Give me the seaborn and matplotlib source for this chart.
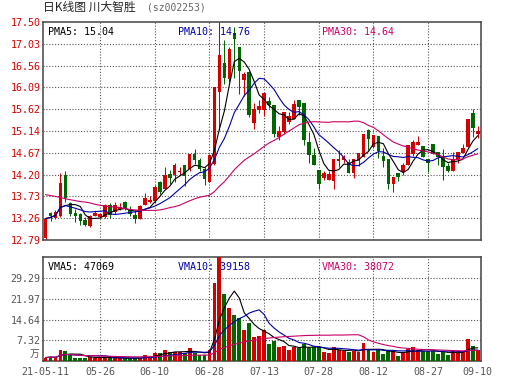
"""
Daily K-line chart for 川大智胜 (sz002253), 2021-05-11 .. 2021-09-10
Candles + price MA5/10/30 on top, volume + VMA5/10/30 below.
"""

import numpy as np
import pandas as pd
import matplotlib
matplotlib.use("Agg")
import matplotlib.pyplot as plt
import matplotlib.transforms as mtransforms
import seaborn as sns

# ------------------------------------------------------------------
# Data (88 trading days)
# ------------------------------------------------------------------
open_ = [12.84, 13.37, 13.26, 13.30, 14.19, 13.58, 13.38, 13.35, 13.23, 13.09,
         13.30, 13.29, 13.29, 13.54, 13.40, 13.45, 13.61, 13.47, 13.33, 13.25,
         13.54, 13.61, 13.63, 14.05, 13.90, 14.21, 14.19, 14.26, 14.40, 14.33,
         14.64, 14.51, 14.33, 14.05, 14.43, 15.99, 16.61, 16.27, 17.27, 16.95,
         16.24, 16.43, 15.31, 15.60, 15.60, 15.79, 15.71, 15.02, 15.13, 15.34,
         15.40, 15.81, 15.74, 14.91, 14.62, 14.31, 14.14, 14.08, 14.07, 14.50,
         14.52, 14.48, 14.23, 14.52, 14.59, 15.16, 14.80, 15.03, 14.60, 14.53,
         14.01, 14.23, 14.26, 14.41, 14.65, 14.84, 14.82, 14.53, 14.86, 14.69,
         14.58, 14.38, 14.29, 14.54, 14.66, 14.79, 15.54, 15.09]
close = [13.25, 13.31, 13.40, 14.02, 13.69, 13.36, 13.30, 13.20, 13.11, 13.30,
         13.37, 13.35, 13.54, 13.33, 13.54, 13.50, 13.45, 13.35, 13.25, 13.52,
         13.70, 13.65, 13.94, 13.83, 14.19, 14.14, 14.41, 14.29, 14.17, 14.64,
         14.51, 14.33, 14.11, 14.62, 16.09, 16.79, 16.29, 16.92, 17.13, 16.45,
         16.38, 15.49, 15.62, 15.68, 15.96, 15.71, 15.09, 15.15, 15.56, 15.47,
         15.73, 15.67, 14.95, 14.62, 14.41, 14.01, 14.23, 14.21, 14.55, 14.55,
         14.59, 14.23, 14.55, 14.66, 15.09, 14.98, 15.06, 14.72, 14.50, 14.01,
         14.15, 14.16, 14.41, 14.85, 14.91, 14.91, 14.59, 14.45, 14.64, 14.58,
         14.37, 14.28, 14.55, 14.70, 14.77, 15.40, 15.20, 15.15]
high = [13.28, 13.40, 13.44, 14.23, 14.28, 13.62, 13.47, 13.38, 13.28, 13.33,
        13.42, 13.37, 13.56, 13.58, 13.62, 13.60, 13.63, 13.52, 13.42, 13.54,
        13.81, 13.75, 13.98, 14.07, 14.37, 14.30, 14.45, 14.37, 14.40, 14.65,
        14.75, 14.56, 14.37, 14.64, 16.10, 17.50, 17.12, 16.95, 17.40, 16.97,
        16.43, 16.45, 15.74, 15.81, 15.96, 15.88, 15.71, 15.25, 15.56, 15.55,
        15.81, 15.81, 15.74, 15.13, 14.77, 14.31, 14.28, 14.28, 14.55, 14.73,
        14.63, 14.55, 14.55, 14.66, 15.09, 15.18, 15.06, 15.03, 14.77, 14.53,
        14.15, 14.23, 14.45, 14.85, 14.95, 15.03, 14.82, 14.53, 14.86, 14.69,
        14.75, 14.45, 14.70, 14.70, 14.87, 15.40, 15.61, 15.25]
low = [12.79, 13.20, 13.24, 13.28, 13.61, 13.30, 13.18, 13.11, 13.09, 13.08,
       13.30, 13.27, 13.26, 13.26, 13.36, 13.44, 13.43, 13.30, 13.15, 13.25,
       13.54, 13.58, 13.60, 13.79, 13.90, 14.00, 14.05, 14.20, 13.96, 14.28,
       14.44, 14.29, 13.98, 14.04, 14.40, 15.16, 16.17, 16.20, 16.30, 15.95,
       15.90, 15.45, 15.18, 15.53, 15.47, 15.65, 15.02, 14.95, 15.09, 15.30,
       15.40, 15.49, 14.84, 14.46, 14.41, 13.90, 14.09, 14.08, 13.90, 14.37,
       14.45, 14.23, 14.12, 14.39, 14.59, 14.73, 14.77, 14.57, 14.37, 13.90,
       13.83, 14.06, 14.19, 14.41, 14.60, 14.84, 14.59, 14.26, 14.64, 14.42,
       14.08, 14.25, 14.29, 14.45, 14.66, 14.79, 15.02, 14.99]
# volume in 万 (10k)
volume = [1.25, 1.5, 1.25, 3.95, 3.6, 2.2, 1.25, 1.25, 1.25, 1.5,
          1.25, 1.25, 1.25, 1.0, 1.0, 1.0, 1.0, 1.0, 1.0, 1.25,
          2.2, 1.5, 3.0, 2.7, 3.95, 3.2, 3.3, 3.2, 3.0, 4.55,
          3.0, 2.05, 2.05, 3.95, 27.6, 37.0, 23.8, 18.8, 16.3, 15.3,
          11.0, 13.6, 8.5, 8.9, 11.0, 6.2, 7.1, 4.8, 5.4, 3.95,
          5.1, 4.55, 6.0, 4.55, 4.8, 4.8, 3.35, 3.0, 5.0, 3.95,
          3.6, 3.35, 3.6, 3.35, 6.5, 3.95, 3.35, 3.8, 2.65, 3.95,
          3.2, 1.85, 3.2, 4.4, 4.8, 3.8, 3.6, 3.6, 3.6, 2.65,
          3.35, 2.2, 3.6, 3.0, 3.35, 7.7, 5.4, 3.95]
# MA30 before 30 days of history are visible (comes from earlier data)
ma30_head = [13.77, 13.75, 13.73, 13.71, 13.68, 13.66, 13.64, 13.62, 13.61, 13.59,
             13.56, 13.54, 13.52, 13.51, 13.50, 13.49, 13.47, 13.45, 13.44, 13.43,
             13.43, 13.43, 13.43, 13.44, 13.46, 13.49, 13.51, 13.54, 13.59]

date_idx = [0, 11, 22, 33, 44, 55, 66, 77, 87]
date_labels = ["21-05-11", "05-26", "06-10", "06-28", "07-13",
               "07-28", "08-12", "08-27", "09-10"]
grid_idx = [11, 22, 33, 44, 55, 66, 77]
price_ticks = [12.79, 13.26, 13.73, 14.20, 14.67, 15.14, 15.62, 16.09, 16.56, 17.03, 17.50]
vol_ticks = [7.32, 14.64, 21.97, 29.29]
vol_top = 36.61

pma_labels = ["PMA5: 15.04", "PMA10: 14.76", "PMA30: 14.64"]
vma_labels = ["VMA5: 47069", "VMA10: 39158", "VMA30: 38072"]

# ------------------------------------------------------------------
# Setup
# ------------------------------------------------------------------
sns.set_style("white")
plt.rcParams['font.family'] = ['DejaVu Sans Mono', 'Noto Sans CJK SC']

RED = "#d40000"
GREEN = "#006600"
BLUE = "#0000aa"
PINK = "#cc0066"
GRID = "#555555"
FRAME = "#444444"
GRAY = "#555555"
FS = 7.2

df = pd.DataFrame({"open": open_, "close": close, "high": high,
                   "low": low, "volume": volume})
df["x"] = np.arange(len(df))
df["ma5"] = df["close"].rolling(5, min_periods=1).mean()
df["ma10"] = df["close"].rolling(10, min_periods=1).mean()
df["ma30"] = df["close"].rolling(30).mean()
df.loc[:len(ma30_head) - 1, "ma30"] = ma30_head
df["vma5"] = df["volume"].rolling(5, min_periods=1).mean()
df["vma10"] = df["volume"].rolling(10, min_periods=1).mean()
df["vma30"] = df["volume"].rolling(30, min_periods=1).mean()
df["color"] = np.where(df["close"] >= df["open"], RED, GREEN)

W, H = 530, 391
fig = plt.figure(figsize=(W / 100, H / 100), dpi=100)
left = 43.3 / W
width = (481 - 43.3) / W
ax_p = fig.add_axes([left, 1 - 240 / H, width, (240 - 22) / H])
ax_v = fig.add_axes([left, 1 - 361.1 / H, width, (361.1 - 257.3) / H])

# ------------------------------------------------------------------
# Price panel
# ------------------------------------------------------------------
ax_p.vlines(df["x"], df["low"], df["high"], colors=df["color"], lw=0.75, zorder=2)
body = (df["close"] - df["open"]).abs().clip(lower=0.015)
ax_p.bar(df["x"], body, bottom=df[["open", "close"]].min(axis=1), width=0.72,
         color=df["color"], lw=0, zorder=3)

sns.lineplot(data=df, x="x", y="ma5", ax=ax_p, color="black", lw=0.8, zorder=4)
sns.lineplot(data=df, x="x", y="ma10", ax=ax_p, color=BLUE, lw=0.8, zorder=4)
sns.lineplot(data=df, x="x", y="ma30", ax=ax_p, color=PINK, lw=0.8, zorder=4)

ax_p.set_ylim(price_ticks[0], price_ticks[-1])
ax_p.set_yticks(price_ticks)
ax_p.set_yticklabels([f"{t:.2f}" for t in price_ticks], color=RED, fontsize=FS)
ax_p.set_xticks([])

# ------------------------------------------------------------------
# Volume panel
# ------------------------------------------------------------------
ax_v.bar(df["x"], df["volume"], width=0.78, color=df["color"], lw=0, zorder=3)
sns.lineplot(data=df, x="x", y="vma5", ax=ax_v, color="black", lw=0.8, zorder=4)
sns.lineplot(data=df, x="x", y="vma10", ax=ax_v, color=BLUE, lw=0.8, zorder=4)
sns.lineplot(data=df, x="x", y="vma30", ax=ax_v, color=PINK, lw=0.8, zorder=4)

ax_v.set_ylim(0, vol_top)
ax_v.set_yticks(vol_ticks)
ax_v.set_yticklabels([f"{t:.2f}" for t in vol_ticks], color=GRAY, fontsize=FS)
ax_v.set_xticks(date_idx)
ax_v.set_xticklabels(date_labels, color=GRAY, fontsize=FS)
trans = mtransforms.blended_transform_factory(ax_v.transAxes, ax_v.transData)
ax_v.text(-0.008, 2.6, "万", transform=trans, ha="right", va="center",
          color=GRAY, fontsize=7, family=['Noto Sans CJK SC'])

# ------------------------------------------------------------------
# Common styling
# ------------------------------------------------------------------
for ax, yt in [(ax_p, price_ticks[1:-1]), (ax_v, vol_ticks)]:
    ax.set_xlim(-0.45, 87.65)
    ax.set_xlabel("")
    ax.set_ylabel("")
    for y in yt:
        ax.axhline(y, color=GRID, lw=0.8, ls=(0, (1, 1.6)), zorder=1)
    for x in grid_idx:
        ax.axvline(x, color=GRID, lw=0.8, ls=(0, (1, 1.6)), zorder=1)
    for s in ax.spines.values():
        s.set_visible(True)
        s.set_color(FRAME)
        s.set_linewidth(1.1)
    ax.tick_params(length=0, pad=2)
ax_v.tick_params(axis="x", pad=4)

# MA value labels
label_x = [0.010, 0.307, 0.637]
label_c = ["black", BLUE, PINK]
for lx, txt, c in zip(label_x, pma_labels, label_c):
    ax_p.text(lx, 0.953, txt, transform=ax_p.transAxes, color=c,
              fontsize=FS, va="center", zorder=6)
for lx, txt, c in zip(label_x, vma_labels, label_c):
    ax_v.text(lx, 0.905, txt, transform=ax_v.transAxes, color=c,
              fontsize=FS, va="center", zorder=6)

# title
fig.text(43.3 / W, 1 - 7.5 / H, "日K线图 川大智胜", fontsize=8.5,
         va="center", family=['Noto Sans CJK SC'])
fig.text(146.7 / W, 1 - 7.5 / H, "(sz002253)", fontsize=7, color="#666666",
         va="center")

fig.savefig("out.png", dpi=100)
plt.close(fig)
